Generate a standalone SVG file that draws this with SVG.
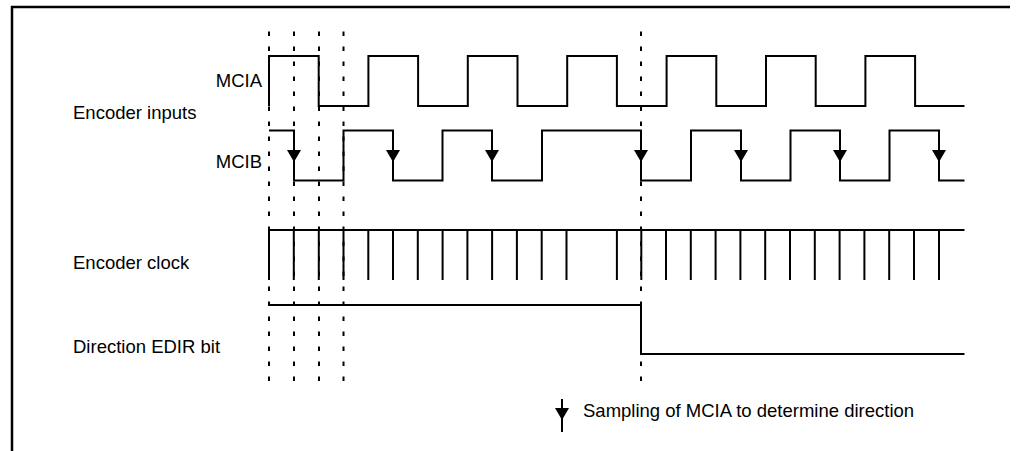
<svg xmlns="http://www.w3.org/2000/svg" xmlns:xlink="http://www.w3.org/1999/xlink" width="1018" height="451" viewBox="0 0 1018 451">
<style>
.wave{fill:none;stroke:#000;stroke-width:2;stroke-linejoin:miter;stroke-linecap:butt}
.guide{fill:none;stroke:#000;stroke-width:2;stroke-dasharray:4.5 10.5}
.lbl{font-family:"Liberation Sans",Arial,Helvetica,sans-serif;font-size:18.5px;fill:#000}
.frame{fill:none;stroke:#000;stroke-width:2.5}
</style>
<defs>
<polygon id="arr" points="-7,0 7,0 0,12" fill="#000"/>
</defs>
<rect width="1018" height="451" fill="#fff"/>
<g id="frame">
<path class="frame" d="M12,451 V7 H1010"/>
</g>
<g id="labels">
<text class="lbl" x="262" y="87" text-anchor="end">MCIA</text>
<text class="lbl" x="73" y="119">Encoder inputs</text>
<text class="lbl" x="262" y="168" text-anchor="end">MCIB</text>
<text class="lbl" x="73" y="269">Encoder clock</text>
<text class="lbl" x="73" y="352.5">Direction EDIR bit</text>
</g>
<g id="guides">
<line class="guide" x1="269" y1="31.5" x2="269" y2="381"/>
<line class="guide" x1="294" y1="31.5" x2="294" y2="381"/>
<line class="guide" x1="319" y1="31.5" x2="319" y2="381"/>
<line class="guide" x1="343.5" y1="31.5" x2="343.5" y2="381"/>
<line class="guide" x1="641" y1="31.5" x2="641" y2="381"/>
</g>
<g id="mcia">
<path class="wave" d="M269,106 V56 H318.7 V106 H368.4 V56 H418.1 V106 H467.8 V56 H517.5 V106 H567.2 V56 H616.9 V106 H666.6 V56 H716.3 V106 H766 V56 H815.7 V106 H865.4 V56 H915.1 V106 H964.5"/>
</g>
<g id="mcib">
<path class="wave" d="M269,130.5 H294 V180.5 H343.5 V130.5 H393 V180.5 H442.5 V130.5 H492 V180.5 H542 V130.5 H641 V180.5 H691 V130.5 H741 V180.5 H790.5 V130.5 H840 V180.5 H889.5 V130.5 H939 V180.5 H964.5"/>
<use xlink:href="#arr" x="294" y="150"/>
<use xlink:href="#arr" x="393" y="150"/>
<use xlink:href="#arr" x="492" y="150"/>
<use xlink:href="#arr" x="641" y="150"/>
<use xlink:href="#arr" x="741" y="150"/>
<use xlink:href="#arr" x="840" y="150"/>
<use xlink:href="#arr" x="939" y="150"/>
</g>
<g id="clock">
<path class="wave" d="M269,230 H964.5 M269,230 V280 M293.8,230 V280 M318.8,230 V280 M343.5,230 V280 M368.3,230 V280 M393,230 V280 M417.8,230 V280 M442.6,230 V280 M467.4,230 V280 M492.1,230 V280 M516.9,230 V280 M541.7,230 V280 M566.5,230 V280 M616.9,230 V280 M641.3,230 V280 M666,230 V280 M690.8,230 V280 M715.6,230 V280 M740.4,230 V280 M765.2,230 V280 M790,230 V280 M814.8,230 V280 M839.6,230 V280 M864.4,230 V280 M889.2,230 V280 M914,230 V280 M939,230 V280"/>
</g>
<g id="edir">
<path class="wave" d="M269,305 H641 V354 H964.5"/>
</g>
<g id="legend">
<line class="wave" x1="562" y1="399" x2="562" y2="432"/>
<use xlink:href="#arr" x="562" y="408"/>
<text class="lbl" x="583" y="416.5">Sampling of MCIA to determine direction</text>
</g>
</svg>
